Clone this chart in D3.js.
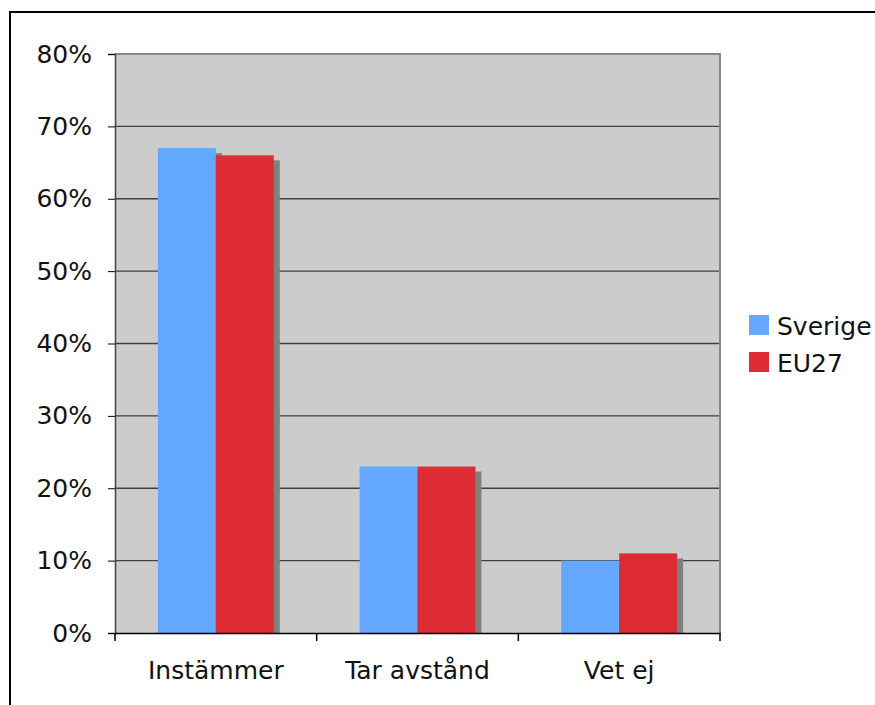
<!DOCTYPE html>
<html><head><meta charset="utf-8">
<script src="https://cdn.jsdelivr.net/npm/d3@7"></script>
<style>body{margin:0;background:#fff;} svg{display:block;}</style>
</head><body>
<svg id="c" width="875" height="705"></svg>
<script>
const categories = ["Instämmer", "Tar avstånd", "Vet ej"];
const seriesNames = ["Sverige", "EU27"];
const sverige = [0.67, 0.23, 0.10];
const eu27 = [0.66, 0.23, 0.11];
const yTicks = [0, 0.1, 0.2, 0.3, 0.4, 0.5, 0.6, 0.7, 0.8];
const colors = ["#64a9ff", "#dd2c33"];

const svg = d3.select("#c");
const font = "DejaVu Sans, Verdana, sans-serif";
const FS = 25;
const L = 115, R = 720, T = 54, B = 633;

// outer frame
svg.append("rect").attr("x", 10).attr("y", 12).attr("width", 900).attr("height", 760)
  .attr("fill", "#fff").attr("stroke", "#000").attr("stroke-width", 2);

const x0 = d3.scaleBand().domain(categories).range([L, R]).paddingInner(0).paddingOuter(0);
const x1 = d3.scaleBand().domain(seriesNames).range([0, x0.bandwidth()]).paddingInner(0).paddingOuter(0.74);
const y = d3.scaleLinear().domain([0, 0.8]).range([B, T]);

// plot background
svg.append("rect").attr("x", L).attr("y", T).attr("width", R - L).attr("height", B - T).attr("fill", "#cccccc");

// gridlines
svg.append("g").selectAll("line").data(yTicks.filter(d => d > 0 && d < 0.8)).join("line")
  .attr("x1", L).attr("x2", R).attr("y1", d => y(d)).attr("y2", d => y(d))
  .attr("stroke", "#404040").attr("stroke-width", 1.3);

// plot border top/right
svg.append("path").attr("d", `M${L},${T}H${R}V${B}`).attr("fill", "none").attr("stroke", "#888").attr("stroke-width", 2);

const data = categories.map((c, i) => ({c, vals: [sverige[i], eu27[i]]}));
const flat = [];
data.forEach(d => d.vals.forEach((v, j) => flat.push({c: d.c, s: seriesNames[j], v, j})));

// shadows
svg.append("g").selectAll("rect").data(flat).join("rect")
  .attr("x", d => x0(d.c) + x1(d.s) + 6).attr("y", d => y(d.v) + 5)
  .attr("width", x1.bandwidth()).attr("height", d => B - y(d.v) - 5)
  .attr("fill", "#808080");
// bars
svg.append("g").selectAll("rect").data(flat).join("rect")
  .attr("x", d => x0(d.c) + x1(d.s)).attr("y", d => y(d.v))
  .attr("width", x1.bandwidth()).attr("height", d => B - y(d.v))
  .attr("fill", d => colors[d.j]);

// y axis
const yAxis = d3.axisLeft(y).tickValues(yTicks).tickFormat(d3.format(".0%")).tickSize(7).tickPadding(16);
const gy = svg.append("g").attr("transform", `translate(${L},0)`).call(yAxis);
gy.select(".domain").attr("stroke", "#444").attr("stroke-width", 1.5);
gy.selectAll(".tick line").attr("stroke", "#000");
gy.selectAll("text").attr("font-family", font).attr("font-size", FS).attr("fill", "#111");

// x axis
const gx = svg.append("g").attr("transform", `translate(0,${B})`)
  .call(d3.axisBottom(x0).tickSize(0).tickPadding(28));
gx.select(".domain").attr("stroke", "#000").attr("stroke-width", 1.5);
gx.selectAll("text").attr("font-family", font).attr("font-size", FS).attr("fill", "#111");
// category boundary ticks
const bounds = categories.map(c => x0(c)).concat([R]);
svg.append("g").selectAll("line").data(bounds).join("line")
  .attr("x1", d => d).attr("x2", d => d).attr("y1", B).attr("y2", B + 8)
  .attr("stroke", "#000").attr("stroke-width", 1.5);

// legend
const lg = svg.append("g").selectAll("g").data(seriesNames).join("g")
  .attr("transform", (d, i) => `translate(749,${315 + i * 37})`);
lg.append("rect").attr("width", 20).attr("height", 20).attr("fill", (d, i) => colors[i]);
lg.append("text").attr("x", 28).attr("y", 20).text(d => d)
  .attr("font-family", font).attr("font-size", FS).attr("fill", "#111");
</script>
</body></html>
